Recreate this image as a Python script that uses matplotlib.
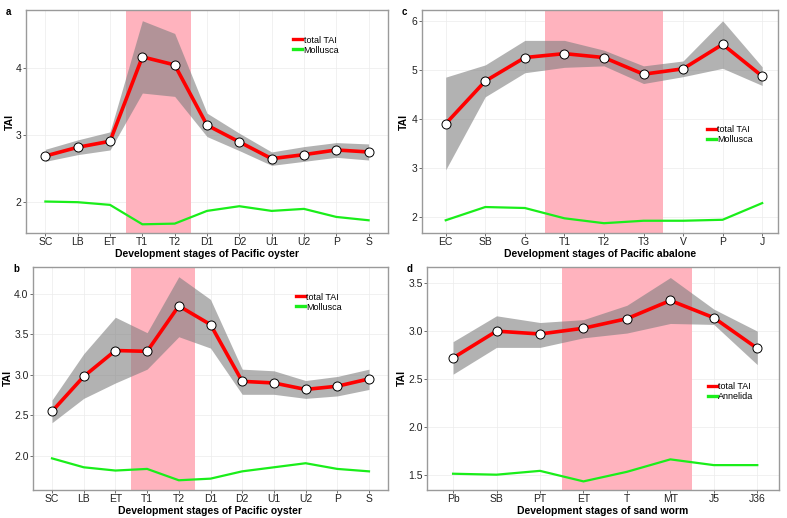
import matplotlib.pyplot as plt

plt.rcParams["font.family"] = ["Liberation Sans", "DejaVu Sans"]

# panel a: Pacific oyster
oyster_stages = ["SC", "LB", "ET", "T1", "T2", "D1", "D2", "U1", "U2", "P", "S"]
a_tai = [2.69, 2.82, 2.91, 4.17, 4.05, 3.15, 2.90, 2.65, 2.71, 2.78, 2.75]
a_upper = [2.79, 2.93, 3.05, 4.71, 4.52, 3.33, 3.03, 2.75, 2.83, 2.89, 2.87]
a_lower = [2.61, 2.71, 2.78, 3.63, 3.58, 2.98, 2.77, 2.55, 2.61, 2.67, 2.63]
a_phylum = [2.01, 2.00, 1.96, 1.67, 1.68, 1.87, 1.94, 1.87, 1.90, 1.78, 1.73]

# panel b: Pacific oyster (second set)
b_tai = [2.55, 2.98, 3.30, 3.29, 3.85, 3.62, 2.92, 2.90, 2.82, 2.86, 2.95]
b_upper = [2.69, 3.26, 3.71, 3.52, 4.21, 3.93, 3.07, 3.05, 2.93, 2.98, 3.07]
b_lower = [2.41, 2.71, 2.90, 3.07, 3.47, 3.33, 2.76, 2.76, 2.71, 2.74, 2.82]
b_phylum = [1.97, 1.86, 1.82, 1.84, 1.70, 1.72, 1.81, 1.86, 1.91, 1.84, 1.81]

# panel c: Pacific abalone
abalone_stages = ["EC", "SB", "G", "T1", "T2", "T3", "V", "P", "J"]
c_tai = [3.90, 4.77, 5.25, 5.33, 5.25, 4.91, 5.02, 5.52, 4.87]
c_upper = [4.85, 5.10, 5.60, 5.60, 5.40, 5.08, 5.18, 6.00, 5.06]
c_lower = [2.96, 4.45, 4.94, 5.05, 5.08, 4.72, 4.86, 5.03, 4.68]
c_phylum = [1.93, 2.20, 2.18, 1.97, 1.87, 1.92, 1.92, 1.94, 2.28]

# panel d: sand worm
worm_stages = ["Pb", "SB", "PT", "ET", "T", "MT", "J5", "J36"]
d_tai = [2.72, 3.00, 2.97, 3.03, 3.13, 3.32, 3.14, 2.82]
d_upper = [2.89, 3.16, 3.09, 3.12, 3.27, 3.56, 3.23, 3.00]
d_lower = [2.55, 2.83, 2.83, 2.93, 2.98, 3.08, 3.07, 2.65]
d_phylum = [1.51, 1.50, 1.54, 1.43, 1.53, 1.66, 1.60, 1.60]

W, H = 787, 518


def add_panel(fig, box, letter, stages, tai, upper, lower, phylum, phylum_name,
              band, xlim, ylim, yticks, ytick_labels, xlabel, legend_pos, ylabel_x):
    left, right, top, bottom = box
    ax = fig.add_axes([left / W, 1 - bottom / H, (right - left) / W, (bottom - top) / H])
    x = list(range(len(stages)))

    ax.axvspan(band[0], band[1], color="#ffb3be", lw=0, zorder=1)
    ax.fill_between(x, lower, upper, color="#7f7f7f", alpha=0.6, lw=0, zorder=2)
    ax.plot(x, phylum, color="#1aee1a", lw=1.6, zorder=3, label=phylum_name)
    ax.plot(x, tai, color="#ff0000", lw=2.6, zorder=4, label="total TAI",
            marker="o", markersize=6.5, markerfacecolor="white",
            markeredgecolor="black", markeredgewidth=0.7)

    ax.set_xlim(*xlim)
    ax.set_ylim(*ylim)
    ax.set_xticks(x)
    ax.set_xticklabels(stages, fontsize=7.5, color="#222222")
    ax.set_yticks(yticks)
    ax.set_yticklabels(ytick_labels, fontsize=7.5, color="#222222")
    ax.tick_params(length=2, width=0.6, color="#555555", pad=1.2)
    ax.set_xlabel(xlabel, fontsize=7.5, fontweight="bold", va="center")
    ax.xaxis.set_label_coords(0.5, -0.094)
    ax.set_ylabel("TAI", fontsize=7.5, fontweight="bold", va="center")
    ax.yaxis.set_label_coords((ylabel_x - left) / (right - left), 0.5)

    ax.grid(True, color="#ececec", lw=0.5, zorder=0)
    ax.set_axisbelow(True)
    for s in ax.spines.values():
        s.set_color("#9a9a9a")
        s.set_linewidth(1.0)

    handles, labels = ax.get_legend_handles_labels()
    leg = ax.legend(handles[::-1], labels[::-1], loc="upper left",
                    bbox_to_anchor=legend_pos, frameon=False, fontsize=6.5,
                    handlelength=1.0, handletextpad=0.15, labelspacing=0.1,
                    borderaxespad=0, borderpad=0)
    for line in leg.get_lines():
        line.set_linewidth(2.4)
        line.set_marker("")

    fig.text((left - 20) / W, 1 - (top - 3) / H, letter, fontsize=7,
             fontweight="bold", va="top", ha="left")
    return ax


fig = plt.figure(figsize=(7.87, 5.18), dpi=100)

add_panel(fig, (26, 388, 10, 233), "a", oyster_stages, a_tai, a_upper, a_lower,
          a_phylum, "Mollusca", (2.5, 4.5), (-0.6, 10.6), (1.54, 4.87),
          [2, 3, 4], ["2", "3", "4"], "Development stages of Pacific oyster",
          (0.738, 0.885), 10)

add_panel(fig, (33, 388, 267, 490), "b", oyster_stages, b_tai, b_upper, b_lower,
          b_phylum, "Mollusca", (2.5, 4.5), (-0.6, 10.6), (1.58, 4.33),
          [2.0, 2.5, 3.0, 3.5, 4.0], ["2.0", "2.5", "3.0", "3.5", "4.0"],
          "Development stages of Pacific oyster", (0.74, 0.885), 8)

add_panel(fig, (422, 778, 10, 233), "c", abalone_stages, c_tai, c_upper, c_lower,
          c_phylum, "Mollusca", (2.5, 5.5), (-0.6, 8.4), (1.67, 6.22),
          [2, 3, 4, 5, 6], ["2", "3", "4", "5", "6"],
          "Development stages of Pacific abalone", (0.80, 0.485), 404)

add_panel(fig, (427, 779, 267, 490), "d", worm_stages, d_tai, d_upper, d_lower,
          d_phylum, "Annelida", (2.5, 5.5), (-0.6, 7.5), (1.34, 3.67),
          [1.5, 2.0, 2.5, 3.0, 3.5], ["1.5", "2.0", "2.5", "3.0", "3.5"],
          "Development stages of sand worm", (0.798, 0.485), 402)

fig.savefig("out.png", dpi=100)
